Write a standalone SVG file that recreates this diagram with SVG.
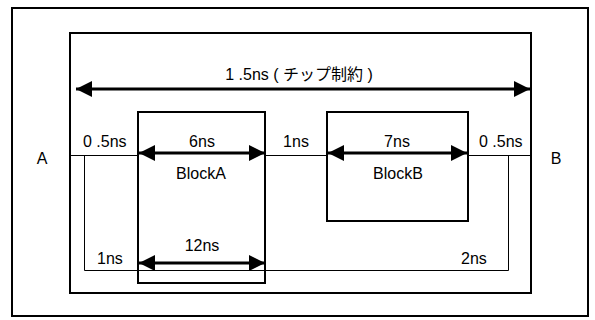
<svg xmlns="http://www.w3.org/2000/svg" width="595" height="320" viewBox="0 0 595 320">
  <style>
    .box { fill: none; stroke: #000; stroke-width: 2; }
    .wire { fill: none; stroke: #000; stroke-width: 1; }
    .dim { fill: none; stroke: #000; stroke-width: 3; }
    .lbl { font-family: "Liberation Sans", Arial, sans-serif; font-size: 16px; fill: #000; }
    .jp { font-family: "Liberation Sans", "Noto Sans CJK JP", sans-serif; font-size: 16px; fill: #000; }
  </style>
  <defs>
    <marker id="head" markerUnits="userSpaceOnUse" markerWidth="18" markerHeight="18" refX="16" refY="8" orient="auto-start-reverse">
      <polygon points="0,0 16,8 0,16" fill="#000"/>
    </marker>
  </defs>
  <rect width="595" height="320" fill="#fff"/>

  <!-- outer frame -->
  <rect class="box" x="12" y="8" width="576" height="308"/>

  <!-- chip boundary -->
  <g id="chip">
    <rect class="box" x="70" y="33" width="461" height="260"/>
  </g>

  <g id="blockA">
    <rect class="box" x="138" y="112" width="127" height="171"/>
    <text class="lbl" x="201" y="179" text-anchor="middle">BlockA</text>
  </g>

  <g id="blockB">
    <rect class="box" x="327" y="112" width="141" height="109"/>
    <text class="lbl" x="398" y="179" text-anchor="middle">BlockB</text>
  </g>

  <g id="portA">
    <text class="lbl" x="42" y="164" text-anchor="middle">A</text>
  </g>
  <g id="portB">
    <text class="lbl" x="556" y="164" text-anchor="middle">B</text>
  </g>

  <!-- wiring between ports and blocks -->
  <g id="connectors">
    <line class="wire" x1="70" y1="155.5" x2="138" y2="155.5"/>
    <line class="wire" x1="265" y1="155.5" x2="327" y2="155.5"/>
    <line class="wire" x1="468" y1="155.5" x2="531" y2="155.5"/>
    <polyline class="wire" points="84.5,155.5 84.5,270.5 508.5,270.5 508.5,155.5"/>
  </g>

  <!-- delay dimensions -->
  <g id="dimensions">
    <line class="dim" x1="76" y1="89" x2="530" y2="89" marker-start="url(#head)" marker-end="url(#head)"/>
    <line class="dim" x1="139" y1="153" x2="265" y2="153" marker-start="url(#head)" marker-end="url(#head)"/>
    <line class="dim" x1="328" y1="153" x2="467" y2="153" marker-start="url(#head)" marker-end="url(#head)"/>
    <line class="dim" x1="139" y1="263" x2="265" y2="263" marker-start="url(#head)" marker-end="url(#head)"/>
  </g>

  <g id="labels">
    <text class="jp" x="299" y="80" text-anchor="middle">1 .5ns ( チップ制約 )</text>
    <text class="lbl" x="83" y="147">0 .5ns</text>
    <text class="lbl" x="202" y="147" text-anchor="middle">6ns</text>
    <text class="lbl" x="296" y="147" text-anchor="middle">1ns</text>
    <text class="lbl" x="397" y="147" text-anchor="middle">7ns</text>
    <text class="lbl" x="479" y="147">0 .5ns</text>
    <text class="lbl" x="202" y="251" text-anchor="middle">12ns</text>
    <text class="lbl" x="97" y="264">1ns</text>
    <text class="lbl" x="461" y="264">2ns</text>
  </g>
</svg>
